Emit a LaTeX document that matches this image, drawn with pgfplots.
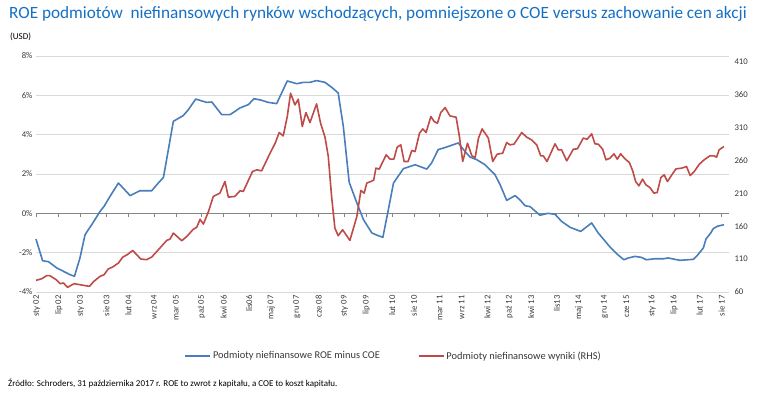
\documentclass[border=0pt]{standalone}
\usepackage{pgfplots}
\pgfplotsset{compat=1.18}
\usepackage{fontspec}
\setmainfont{Carlito}
\definecolor{lineblue}{RGB}{74,126,187}
\definecolor{linered}{RGB}{190,75,72}
\definecolor{titleblue}{RGB}{20,112,196}
\definecolor{gridgray}{RGB}{217,217,217}
\definecolor{axisgray}{RGB}{134,134,134}
\definecolor{txt}{RGB}{55,55,55}
\begin{document}
\begin{tikzpicture}
\useasboundingbox (0,0) rectangle (770pt,395pt);
\node[anchor=west, text=titleblue, font=\fontsize{17.2}{20}\selectfont, inner sep=0pt] at (9pt,381pt) {ROE podmiotów\ \ niefinansowych rynków wschodzących,\ pomniejszone\ o COE versus zachowanie cen akcji};
\node[anchor=west, text=black, font=\fontsize{9}{11}\selectfont, inner sep=0pt] at (10pt,358pt) {(USD)};
\node[anchor=west, text=black, font=\fontsize{9}{11}\selectfont, inner sep=0pt] at (8pt,12pt) {Źródło: Schroders,\ 31 października 2017 r. ROE to zwrot z kapitału,\ a COE to koszt\ kapitału.};
\begin{axis}[
  at={(36pt,103pt)}, anchor=south west, scale only axis,
  width=693pt, height=236pt,
  xmin=-0.2, xmax=189, ymin=-4, ymax=8,
  ytick={-4,-2,0,2,4,6,8},
  yticklabel={\pgfmathprintnumber{\tick}\%},
  /pgf/number format/assume math mode=true,
  axis line style={draw=none},
  ymajorgrids, grid style={color=gridgray, line width=0.8pt},
  major tick length=0pt,
  xtick={0,6,12,19,25,32,38,45,51,58,64,71,77,84,90,97,103,110,116,123,129,135,142,148,155,161,168,174,181,187},
  xticklabels={sty 02,lip 02,sty 03,sie 03,lut 04,wrz 04,mar 05,paź 05,kwi 06,lis06,maj 07,gru 07,cze 08,sty 09,lip 09,lut 10,sie 10,mar 11,wrz 11,kwi 12,paź 12,kwi 13,lis13,maj 14,gru 14,cze 15,sty 16,lip 16,lut 17,sie 17},
  xticklabel style={rotate=90, anchor=east, font=\fontsize{8.7}{10}\selectfont, text=txt},
  yticklabel style={font=\fontsize{8.7}{10}\selectfont, text=txt},
  clip=false,
]
\draw[axisgray, line width=0.8pt] (axis cs:-0.2,0) -- (axis cs:189,0);
\pgfplotsinvokeforeach{0,6,12,19,25,32,38,45,51,58,64,71,77,84,90,97,103,110,116,123,129,135,142,148,155,161,168,174,181,187}{
  \draw[axisgray, line width=0.8pt] (axis cs:#1,0) -- ++(0pt,-4pt);
}
\addplot[lineblue, line width=1.6pt, line join=round] coordinates {
(-0.2,-1.31) (1.6,-2.41) (3.2,-2.46) (5.5,-2.78) (7.3,-2.95) (9.1,-3.12) (10.3,-3.20) (11.8,-2.27) (13.2,-1.08) (15.0,-0.58) (17.3,0.10) (18.4,0.36) (20.0,0.86) (22.3,1.54) (25.5,0.90) (28.2,1.15) (31.4,1.15) (32.8,1.46) (34.6,1.83) (37.3,4.68) (40.0,4.97) (41.4,5.27) (43.4,5.81) (46.4,5.64) (47.8,5.66) (50.5,5.02) (52.8,5.02) (55.5,5.36) (57.8,5.53) (59.3,5.83) (61.4,5.75) (63.2,5.64) (65.5,5.58) (68.4,6.73) (71.0,6.59) (72.8,6.66) (74.6,6.66) (76.4,6.75) (78.7,6.66) (80.5,6.41) (82.3,6.12) (83.7,4.42) (85.3,1.58) (87.4,0.53) (89.2,-0.32) (91.5,-1.00) (93.0,-1.12) (94.5,-1.22) (96.0,0.19) (97.4,1.54) (100.1,2.27) (103.3,2.47) (106.5,2.25) (107.8,2.56) (109.6,3.24) (111.9,3.37) (115.1,3.58) (116.5,3.24) (118.3,2.86) (120.1,2.73) (122.4,2.47) (125.1,1.97) (126.5,1.46) (128.3,0.66) (130.6,0.90) (131.9,0.69) (133.3,0.39) (134.7,0.34) (137.4,-0.10) (139.5,0.0) (141.5,-0.05) (143.3,-0.41) (145.6,-0.71) (148.5,-0.92) (151.5,-0.49) (153.3,-1.00) (154.7,-1.31) (156.5,-1.71) (158.3,-2.05) (160.3,-2.36) (161.5,-2.27) (163.3,-2.19) (165.1,-2.24) (166.4,-2.36) (168.7,-2.31) (171.1,-2.31) (172.4,-2.27) (175.6,-2.39) (179.3,-2.34) (180.3,-2.15) (182.0,-1.76) (182.7,-1.31) (184.0,-1.00) (184.7,-0.78) (185.8,-0.66) (187.6,-0.58)
};
\end{axis}
\begin{axis}[
  at={(36pt,103pt)}, anchor=south west, scale only axis,
  width=693pt, height=236pt,
  xmin=-0.2, xmax=189, ymin=60, ymax=418.6,
  axis y line*=right, axis x line=none,
  ytick={60,110,160,210,260,310,360,410},
  /pgf/number format/assume math mode=true,
  axis line style={draw=none},
  major tick length=0pt,
  yticklabel style={font=\fontsize{8.7}{10}\selectfont, text=txt, anchor=west, xshift=2pt},
  legend style={at={(0.516,-0.271)}, anchor=center, draw=none, fill=none,
    font=\fontsize{10.4}{12}\selectfont, text=txt, legend columns=2,
    inner sep=0pt,
    /tikz/every even column/.append style={column sep=36pt}},
  legend cell align=left,
  legend image code/.code={\draw[#1] (0pt,0pt) -- (25pt,0pt);},
]
\addlegendimage{lineblue, line width=1.6pt}
\addlegendentry{Podmioty niefinansowe ROE minus COE}
\addplot[linered, line width=1.6pt, line join=round] coordinates {
(-0.2,77.7) (1.4,80.2) (2.7,84.8) (3.6,84.8) (5.3,78.7) (6.4,72.6) (7.3,73.7) (8.4,67.1) (10.2,72.6) (12.3,70.6) (14.4,68.6) (15.6,76.2) (17.3,83.8) (18.4,86.3) (19.5,94.9) (20.7,97.9) (22.3,104.0) (23.5,113.1) (24.7,116.6) (26.2,123.2) (28.4,110.1) (30.0,109.1) (31.4,113.1) (33.2,124.2) (35.5,138.4) (36.4,140.4) (37.3,149.5) (39.6,137.9) (41.0,144.5) (42.6,154.6) (43.7,158.6) (44.6,170.5) (45.5,163.2) (46.9,182.4) (48.2,205.2) (50.0,210.2) (51.4,227.9) (52.3,204.2) (54.1,205.2) (55.5,213.8) (56.4,212.8) (58.9,243.1) (60.1,245.6) (61.4,244.1) (63.7,270.9) (65.1,286.1) (66.2,302.3) (67.3,297.2) (68.4,326.6) (69.3,362.0) (70.5,344.3) (71.4,352.9) (72.5,311.4) (73.5,332.6) (74.6,317.5) (76.4,345.8) (77.5,316.4) (78.7,295.2) (79.6,265.9) (80.5,205.2) (81.4,157.1) (82.3,145.5) (83.5,154.6) (85.5,138.4) (87.4,174.8) (88.5,214.3) (89.4,210.2) (90.1,225.4) (91.2,227.9) (92.0,230.0) (92.6,248.2) (93.5,246.6) (95.4,268.4) (96.5,261.8) (97.5,261.8) (98.4,280.0) (99.4,283.6) (100.3,258.3) (101.4,258.3) (102.4,275.0) (103.3,273.4) (104.5,301.3) (105.4,307.8) (106.3,302.3) (107.6,326.6) (108.5,319.0) (109.4,316.4) (110.3,332.6) (111.5,340.2) (112.8,327.6) (114.5,325.5) (115.4,296.2) (116.3,258.3) (117.6,286.1) (118.8,266.9) (119.7,264.3) (120.6,293.7) (121.6,307.8) (123.3,293.7) (124.5,258.3) (125.7,269.4) (127.2,270.9) (128.3,287.1) (129.2,283.6) (130.3,284.6) (132.4,302.3) (133.8,295.2) (135.1,291.1) (136.5,283.6) (137.6,266.9) (138.3,266.9) (139.3,258.3) (141.5,285.1) (142.4,276.0) (143.3,276.0) (144.7,259.3) (146.5,277.0) (147.6,277.5) (149.2,293.7) (150.3,292.2) (151.5,300.3) (152.4,285.1) (153.3,284.6) (154.5,277.0) (155.4,260.8) (156.5,263.3) (157.6,269.9) (158.5,261.8) (159.4,269.9) (160.6,262.3) (161.8,256.8) (162.7,244.1) (163.5,227.9) (164.4,221.3) (165.4,231.5) (166.3,222.9) (167.4,218.8) (168.5,210.2) (169.4,211.2) (170.4,234.0) (171.3,238.0) (172.2,227.9) (173.4,238.0) (174.5,247.1) (176.1,248.2) (177.4,250.7) (178.4,237.0) (179.5,243.1) (180.9,254.2) (182.2,260.8) (183.8,266.9) (184.9,266.9) (185.6,264.8) (186.3,276.0) (187.6,281.0)
};
\addlegendentry{Podmioty niefinansowe wyniki (RHS)}
\end{axis}
\end{tikzpicture}
\end{document}
